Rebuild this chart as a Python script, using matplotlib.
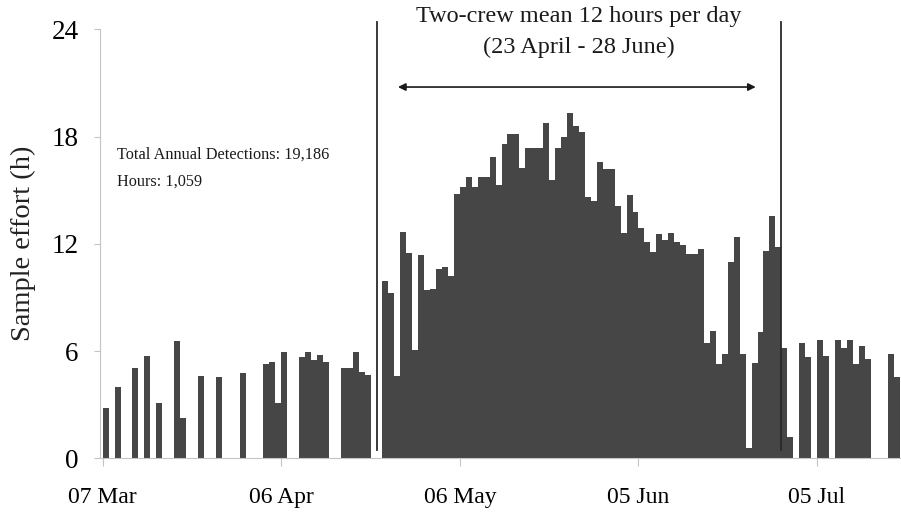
import matplotlib
matplotlib.use("Agg")
import matplotlib.pyplot as plt
import numpy as np

# daily sample effort (h), one value per day starting 07 Mar (0 = no effort)
effort_h = [
    2.80, 0.00, 4.00, 0.00, 0.00, 5.05, 0.00, 5.75, 0.00, 3.10,
    0.00, 0.00, 6.55, 2.25, 0.00, 0.00, 4.60, 0.00, 0.00, 4.55,
    0.00, 0.00, 0.00, 4.80, 0.00, 0.00, 0.00, 5.30, 5.40, 3.10,
    5.95, 0.00, 0.00, 5.65, 5.93, 5.50, 5.80, 5.37, 0.00, 0.00,
    5.07, 5.07, 5.96, 4.85, 4.66, 0.00, 0.00, 9.92, 9.26, 4.60,
    12.68, 11.50, 6.06, 11.36, 9.42, 9.45, 10.57, 10.72, 10.22, 14.77,
    15.19, 15.72, 15.16, 15.75, 15.75, 16.87, 15.30, 17.57, 18.14, 18.14,
    16.22, 17.34, 17.34, 17.34, 18.78, 15.57, 17.34, 17.99, 19.30, 18.59,
    18.27, 14.63, 14.39, 16.59, 16.18, 16.18, 14.11, 12.62, 14.73, 13.80,
    12.87, 12.12, 11.56, 12.53, 12.21, 12.59, 12.12, 11.93, 11.43, 11.43,
    11.70, 6.43, 7.14, 5.26, 5.82, 10.97, 12.40, 5.82, 0.60, 5.31,
    7.05, 11.60, 13.56, 11.84, 6.15, 1.17, 0.00, 6.43, 5.65, 0.00,
    6.62, 5.72, 0.00, 6.62, 6.15, 6.62, 5.26, 6.28, 5.54, 0.00,
    0.00, 0.00, 5.82, 4.57,
]
tick_days = [0, 30, 60, 90, 120]
tick_labels = ["07 Mar", "06 Apr", "06 May", "05 Jun", "05 Jul"]
y_ticks = [0, 6, 12, 18, 24]

crew_bounds = [46.1, 114.0]        # 23 April - 28 June
arrow_span = [49.6, 109.7]

SERIF = ["Liberation Serif", "DejaVu Serif"]
BAR = "#464646"
AXIS = "#c4c4c4"

plt.rcParams["font.family"] = SERIF

days = np.arange(len(effort_h))

fig = plt.figure(figsize=(9.01, 5.2), dpi=100)
ax = fig.add_axes([100 / 901, 1 - 458.3 / 520, 801 / 901, 429 / 520])

ax.bar(days, effort_h, width=1.0, align="edge", color=BAR, edgecolor="none", zorder=2)

ax.set_xlim(-0.45, 134.1)
ax.set_ylim(0, 24)

ax.set_xticks(tick_days)
ax.set_xticklabels(tick_labels)
ax.set_yticks(y_ticks)
ax.tick_params(axis="x", labelsize=17, length=6, width=0.8, color=AXIS, pad=15)
ax.tick_params(axis="y", labelsize=19.5, length=4.5, width=0.8, color=AXIS, pad=11)

for s in ["top", "right"]:
    ax.spines[s].set_visible(False)
for s in ["left", "bottom"]:
    ax.spines[s].set_color(AXIS)
    ax.spines[s].set_linewidth(0.8)

ax.set_ylabel("Sample effort (h)", fontsize=20.5, labelpad=11, color="#222222")

# two-crew period
for xb in crew_bounds:
    ax.plot([xb, xb], [0.45, 24.4], color="#2a2a2a", linewidth=1.3, clip_on=False, zorder=3)

ax.annotate("", xy=(arrow_span[0], 20.77), xytext=(arrow_span[1], 20.77),
            arrowprops=dict(arrowstyle="<|-|>", color="#1a1a1a", lw=1.2,
                            mutation_scale=11, shrinkA=0, shrinkB=0))

mid = sum(crew_bounds) / 2
ax.text(mid, 24.7, "Two-crew mean 12 hours per day", ha="center", va="center",
        fontsize=17.5, color="#1a1a1a", clip_on=False)
ax.text(mid, 23.0, "(23 April - 28 June)", ha="center", va="center",
        fontsize=17.5, color="#1a1a1a")

ax.text(2.4, 16.97, "Total Annual Detections: 19,186", ha="left", va="center",
        fontsize=11.7, color="#1a1a1a")
ax.text(2.4, 15.5, "Hours: 1,059", ha="left", va="center",
        fontsize=11.7, color="#1a1a1a")

fig.savefig("out.png", dpi=100)
